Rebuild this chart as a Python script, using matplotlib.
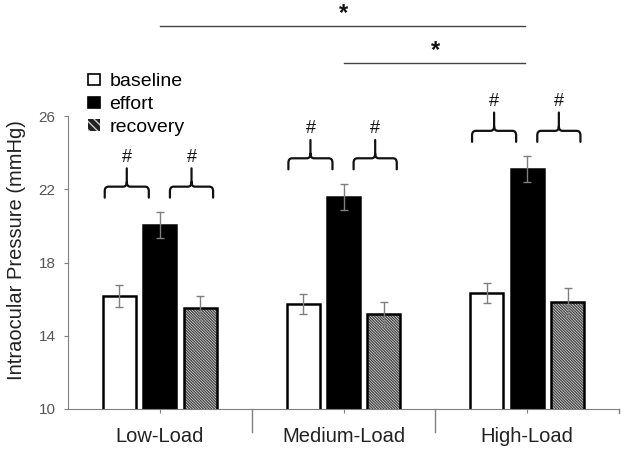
import matplotlib
matplotlib.use("Agg")
import matplotlib.pyplot as plt
from matplotlib.path import Path
from matplotlib.patches import PathPatch, Patch
import numpy as np

plt.rcParams['font.family'] = ['Liberation Sans', 'DejaVu Sans']
plt.rcParams['hatch.linewidth'] = 1.0

categories = ["Low-Load", "Medium-Load", "High-Load"]
series_names = ["baseline", "effort", "recovery"]
baseline = [16.15, 15.75, 16.35]
effort = [20.05, 21.6, 23.1]
recovery = [15.5, 15.2, 15.85]
baseline_err = [0.6, 0.55, 0.55]
effort_err = [0.7, 0.7, 0.7]
recovery_err = [0.7, 0.65, 0.75]
yticks = [10, 14, 18, 22, 26]
ylabel = "Intraocular Pressure (mmHg)"

fig = plt.figure(figsize=(6.25, 4.5), dpi=100)
ax = fig.add_axes([68/625, 41/450, 551/625, 409/450])

x = np.arange(len(categories))
w = 0.18
off = 0.22
errkw = dict(ecolor='#7f7f7f', elinewidth=1.0, capsize=3, capthick=1.0)
ax.bar(x - off, baseline, w, color='white', edgecolor='black', linewidth=1.8,
       yerr=baseline_err, error_kw=errkw, zorder=2)
ax.bar(x, effort, w, color='black', edgecolor='black', linewidth=1.8,
       yerr=effort_err, error_kw=errkw, zorder=2)
ax.bar(x + off, recovery, w, color='white', edgecolor='#444444', linewidth=0,
       hatch='\\' * 12, zorder=2)
ax.bar(x + off, recovery, w, color='none', edgecolor='black', linewidth=1.8,
       yerr=recovery_err, error_kw=errkw, zorder=3)

ax.set_xlim(-0.5, 2.5)
ax.set_ylim(10, 32.35)
ax.set_yticks(yticks)
ax.set_yticklabels([str(t) for t in yticks], fontsize=11, color='#555555')
ax.set_xticks(x)
ax.set_xticklabels(categories, fontsize=14.5, color='#222222')
ax.tick_params(axis='y', direction='out', length=3, color='#808080', pad=6)
ax.tick_params(axis='x', direction='out', length=3, color='#808080', pad=10)
for s in ['top', 'right']:
    ax.spines[s].set_visible(False)
ax.spines['left'].set_bounds(10, 26)
ax.spines['left'].set_color('#808080')
ax.spines['bottom'].set_color('#808080')

# category separators
for xs in [0.5, 1.5]:
    ax.plot([xs, xs], [10, 8.75], color='#808080', lw=1.0, clip_on=False)
ax.plot([2.5, 2.5], [10, 9.78], color='#808080', lw=1.0, clip_on=False)

fig.text(17/625, 1 - 250/450, ylabel, rotation=90, ha='center', va='center',
         fontsize=14.5, color='#222222')

# brackets
def bracket(x0, x1, yb):
    h = 0.6
    sp = 1.0
    rx = 0.02
    ry = 0.25
    xc = (x0 + x1) / 2
    yh = yb + h
    verts = [(x0, yb), (x0, yh - ry), (x0, yh), (x0 + rx, yh),
             (xc - rx, yh), (xc, yh), (xc, yh + ry), (xc, yh + sp),
             (xc, yh + ry), (xc, yh), (xc + rx, yh),
             (x1 - rx, yh), (x1, yh), (x1, yh - ry), (x1, yb)]
    codes = [Path.MOVETO, Path.LINETO, Path.CURVE3, Path.CURVE3,
             Path.LINETO, Path.CURVE3, Path.CURVE3, Path.LINETO,
             Path.MOVETO, Path.CURVE3, Path.CURVE3,
             Path.LINETO, Path.CURVE3, Path.CURVE3, Path.LINETO]
    ax.add_patch(PathPatch(Path(verts, codes), fill=False, lw=1.6,
                           edgecolor='#111111', clip_on=False, capstyle='round'))
    ax.text(xc, yh + sp + 0.15, '#', ha='center', va='bottom', fontsize=13, color='#111111')

for i in range(len(categories)):
    yb = effort[i] + effort_err[i] + 0.8
    bracket(i - 0.30, i - 0.06, yb)
    bracket(i + 0.055, i + 0.29, yb)

# significance lines
top1 = 30.93
top2 = 28.9
ax.plot([x[0], x[2] - 0.01], [top1, top1], color='#444444', lw=1.0, clip_on=False)
ax.text((x[0] + x[2]) / 2, top1 + 0.05, '*', ha='center', va='bottom', fontsize=17,
        fontweight='bold', color='#111111')
ax.plot([x[1], x[2] - 0.01], [top2, top2], color='#444444', lw=1.0, clip_on=False)
ax.text((x[1] + x[2]) / 2, top2 + 0.05, '*', ha='center', va='bottom', fontsize=17,
        fontweight='bold', color='#111111')

# legend
handles = [Patch(facecolor='white', edgecolor='black', lw=1.2),
           Patch(facecolor='black', edgecolor='black', lw=1.2),
           Patch(facecolor='#222222', edgecolor='#cccccc', hatch='\\\\\\\\', lw=0)]
leg = ax.legend(handles, series_names, loc='upper left', bbox_to_anchor=(0.023, 0.84),
                frameon=False, fontsize=14, handlelength=0.58, handleheight=0.5,
                handletextpad=0.5, labelspacing=0.3, borderaxespad=0)

fig.savefig('out.png', dpi=100)
